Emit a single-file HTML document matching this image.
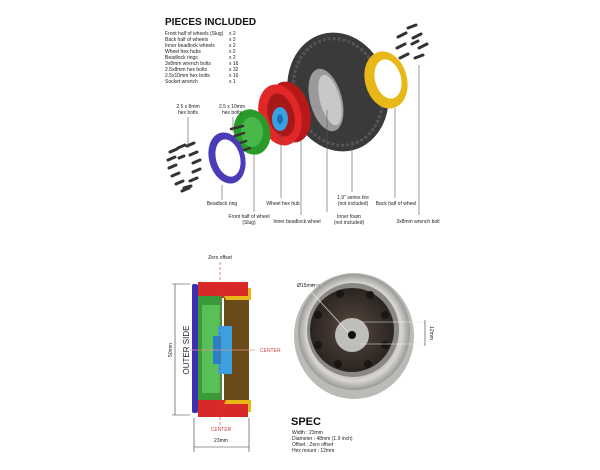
<!DOCTYPE html>
<html><head><style>
body{margin:0;background:#fff;}
svg{display:block;font-family:"Liberation Sans",sans-serif;}
.t{font-size:5px;fill:#222;}
</style></head><body>
<svg width="600" height="470" viewBox="0 0 600 470">
<defs>
<radialGradient id="wg" cx="50%" cy="50%" r="50%"><stop offset="0.7" stop-color="#bdbab5"/><stop offset="0.85" stop-color="#d8d6d2"/><stop offset="1" stop-color="#9a9894"/></radialGradient>
<radialGradient id="dk" cx="50%" cy="50%" r="50%"><stop offset="0" stop-color="#5a4a40"/><stop offset="1" stop-color="#2a2420"/></radialGradient>
</defs>
<text x="165" y="25" font-size="10" font-weight="bold" fill="#111">PIECES INCLUDED</text>
<g class="t">
<text x="165" y="35">Front half of wheels (Slug)</text><text x="229" y="35">x 2</text>
<text x="165" y="41">Back half of wheels</text><text x="229" y="41">x 2</text>
<text x="165" y="47">Inner beadlock wheels</text><text x="229" y="47">x 2</text>
<text x="165" y="53">Wheel hex hubs</text><text x="229" y="53">x 2</text>
<text x="165" y="59">Beadlock rings</text><text x="229" y="59">x 2</text>
<text x="165" y="65">3x8mm wrench bolts</text><text x="229" y="65">x 16</text>
<text x="165" y="71">2.5x8mm hex bolts</text><text x="229" y="71">x 32</text>
<text x="165" y="77">2.5x10mm hex bolts</text><text x="229" y="77">x 16</text>
<text x="165" y="83">Socket wrench</text><text x="229" y="83">x 1</text>
</g>
<!-- tire -->
<ellipse cx="338" cy="92" rx="50" ry="60" transform="rotate(-15 338 92)" fill="#3a3a3a"/>
<ellipse cx="338" cy="92" rx="44" ry="54" transform="rotate(-15 338 92)" fill="none" stroke="#555" stroke-width="3" stroke-dasharray="3 2"/>
<ellipse cx="326" cy="100" rx="16" ry="32" transform="rotate(-15 326 100)" fill="#9a9a9a"/>
<ellipse cx="330" cy="100" rx="10" ry="26" transform="rotate(-15 330 100)" fill="#c8c8c8"/>
<!-- yellow -->
<ellipse cx="386" cy="80" rx="21" ry="29" transform="rotate(-15 386 80)" fill="#e8b818"/>
<ellipse cx="388" cy="79" rx="13" ry="20" transform="rotate(-15 388 79)" fill="#fff"/>
<g stroke="#333" stroke-width="3" stroke-linecap="round">
<line x1="398" y1="37" x2="406" y2="33"/><line x1="408" y1="28" x2="416" y2="25"/><line x1="413" y1="38" x2="421" y2="34"/>
<line x1="397" y1="48" x2="405" y2="44"/><line x1="419" y1="48" x2="427" y2="44"/><line x1="400" y1="58" x2="408" y2="54"/><line x1="415" y1="58" x2="423" y2="55"/><line x1="412" y1="44" x2="418" y2="41"/>
</g>
<!-- red -->
<ellipse cx="290" cy="112" rx="20" ry="31" transform="rotate(-15 290 112)" fill="#b81818"/>
<ellipse cx="280" cy="115" rx="21" ry="31" transform="rotate(-15 280 115)" fill="#e02828"/>
<ellipse cx="281" cy="115" rx="13" ry="22" transform="rotate(-15 281 115)" fill="#a81818"/>
<ellipse cx="280" cy="119" rx="8" ry="12" fill="#3aa0e0"/>
<ellipse cx="280" cy="119" rx="3" ry="5" fill="#1a70b0"/>
<!-- green -->
<ellipse cx="252" cy="132" rx="18" ry="23" transform="rotate(-15 252 132)" fill="#2a9a2a"/>
<ellipse cx="252" cy="132" rx="11" ry="15" fill="#48b848"/>
<g stroke="#333" stroke-width="2.5" stroke-linecap="round">
<line x1="232" y1="137" x2="244" y2="133"/><line x1="234" y1="145" x2="246" y2="141"/><line x1="238" y1="152" x2="250" y2="148"/><line x1="231" y1="129" x2="243" y2="126"/>
</g>
<!-- purple -->
<ellipse cx="227" cy="158" rx="18" ry="26" transform="rotate(-15 227 158)" fill="#4a3cb8"/>
<ellipse cx="228" cy="158" rx="12" ry="19" transform="rotate(-15 228 158)" fill="#fff"/>
<g stroke="#333" stroke-width="3" stroke-linecap="round">
<line x1="170" y1="152" x2="177" y2="149"/><line x1="178" y1="148" x2="185" y2="145"/><line x1="187" y1="146" x2="194" y2="143"/>
<line x1="168" y1="160" x2="175" y2="157"/><line x1="190" y1="155" x2="197" y2="152"/><line x1="169" y1="168" x2="176" y2="165"/><line x1="193" y1="163" x2="200" y2="160"/>
<line x1="172" y1="176" x2="179" y2="173"/><line x1="193" y1="172" x2="200" y2="169"/><line x1="176" y1="184" x2="183" y2="181"/><line x1="190" y1="181" x2="197" y2="178"/>
<line x1="182" y1="191" x2="189" y2="188"/><line x1="179" y1="158" x2="184" y2="156"/><line x1="184" y1="188" x2="191" y2="186"/>
</g>
<!-- leaders -->
<g stroke="#555" stroke-width="0.6">
<line x1="188" y1="117" x2="188" y2="148"/><line x1="233" y1="117" x2="233" y2="132"/>
<line x1="222" y1="185" x2="222" y2="200"/><line x1="281" y1="132" x2="281" y2="198"/><line x1="254" y1="155" x2="254" y2="212"/>
<line x1="301" y1="140" x2="301" y2="215"/><line x1="327" y1="110" x2="327" y2="212"/><line x1="352" y1="140" x2="352" y2="192"/>
<line x1="395" y1="108" x2="395" y2="198"/><line x1="419" y1="65" x2="419" y2="215"/>
</g>
<g class="t" text-anchor="middle">
<text x="188" y="108">2.5 x 8mm</text><text x="188" y="114">hex bolts</text>
<text x="232" y="108">2.5 x 10mm</text><text x="232" y="114">hex bolts</text>
<text x="222" y="205">Beadlock ring</text><text x="283" y="205">Wheel hex hub</text>
<text x="353" y="199">1.9" series tire</text><text x="353" y="205">(not included)</text>
<text x="396" y="205">Back half of wheel</text>
<text x="249" y="218">Front half of wheel</text><text x="249" y="224">(Slug)</text>
<text x="297" y="223">Inner beadlock wheel</text>
<text x="338" y="218" text-anchor="start" x-shift="0"></text>
<text x="349" y="218">Inner foam</text><text x="349" y="224">(not included)</text>
<text x="418" y="223">3x8mm wrench bolt</text>
</g>
<!-- cross section -->
<rect x="198" y="282" width="50" height="16" fill="#d82828"/>
<rect x="198" y="400" width="50" height="17" fill="#d82828"/>
<rect x="198" y="296" width="24" height="104" fill="#3a9a3a"/>
<rect x="202" y="305" width="18" height="88" fill="#58c058"/>
<rect x="224" y="298" width="25" height="102" fill="#6a4a18"/>
<path d="M224 296 H248 V288 H251 V300 H226Z M224 404 H248 V412 H251 V400 H226Z" fill="#e8b818"/>
<rect x="218" y="326" width="14" height="48" fill="#3aa0e0"/>
<rect x="213" y="336" width="8" height="28" fill="#2a80c8"/>
<rect x="192" y="284" width="6" height="129" rx="2" fill="#3a30b0"/>
<line x1="220" y1="262" x2="220" y2="425" stroke="#c04040" stroke-width="0.6" stroke-dasharray="3 2"/>
<line x1="190" y1="350" x2="255" y2="350" stroke="#e09090" stroke-width="0.8"/>
<text x="220" y="259" class="t" text-anchor="middle">Zero offset</text>
<text x="260" y="352" font-size="5" fill="#d04040">CENTER</text>
<text x="221" y="431" font-size="5" fill="#d04040" text-anchor="middle">CENTER</text>
<g stroke="#333" stroke-width="0.6">
<line x1="175" y1="284" x2="175" y2="415"/><line x1="172" y1="284" x2="190" y2="284"/><line x1="172" y1="415" x2="190" y2="415"/>
<line x1="194" y1="418" x2="194" y2="452"/><line x1="249" y1="418" x2="249" y2="452"/><line x1="194" y1="447" x2="249" y2="447"/>
</g>
<text x="221" y="442" class="t" text-anchor="middle">23mm</text>
<text transform="translate(172 350) rotate(-90)" class="t" text-anchor="middle">50mm</text>
<text transform="translate(189 350) rotate(-90)" font-size="8" fill="#222" text-anchor="middle">OUTER  SIDE</text>
<!-- wheel photo -->
<ellipse cx="354" cy="336" rx="60" ry="63" fill="#bcbab6"/>
<ellipse cx="354" cy="332" rx="56" ry="58" fill="url(#wg)"/>
<ellipse cx="353" cy="330" rx="46" ry="47" fill="#8a8884"/>
<circle cx="352" cy="330" r="42" fill="url(#dk)"/>
<g fill="#1a1614">
<circle cx="340" cy="294" r="4"/><circle cx="370" cy="295" r="4"/><circle cx="385" cy="315" r="4"/><circle cx="385" cy="345" r="4"/><circle cx="368" cy="364" r="4"/><circle cx="338" cy="364" r="4"/><circle cx="318" cy="345" r="4"/><circle cx="318" cy="315" r="4"/>
</g>
<circle cx="352" cy="335" r="17" fill="#c0beba"/>
<circle cx="352" cy="335" r="4" fill="#111"/>
<g stroke="#eee" stroke-width="0.6" fill="none">
<line x1="305" y1="285" x2="348" y2="332"/><line x1="360" y1="322" x2="425" y2="322"/><line x1="360" y1="344" x2="425" y2="344"/>
</g>
<line x1="312" y1="285" x2="320" y2="285" stroke="#333" stroke-width="0.5"/>
<line x1="425" y1="320" x2="425" y2="346" stroke="#333" stroke-width="0.6"/>
<text x="297" y="287" class="t">Ø15mm</text>
<text transform="translate(430 333) rotate(90)" class="t" text-anchor="middle">12mm</text>
<text x="291" y="425" font-size="11" font-weight="bold" fill="#111">SPEC</text>
<g class="t">
<text x="292" y="434">Width : 23mm</text>
<text x="292" y="440">Diameter : 48mm (1.9 inch)</text>
<text x="292" y="446">Offset : Zero offset</text>
<text x="292" y="452">Hex mount : 12mm</text>
</g>
</svg>
</body></html>
